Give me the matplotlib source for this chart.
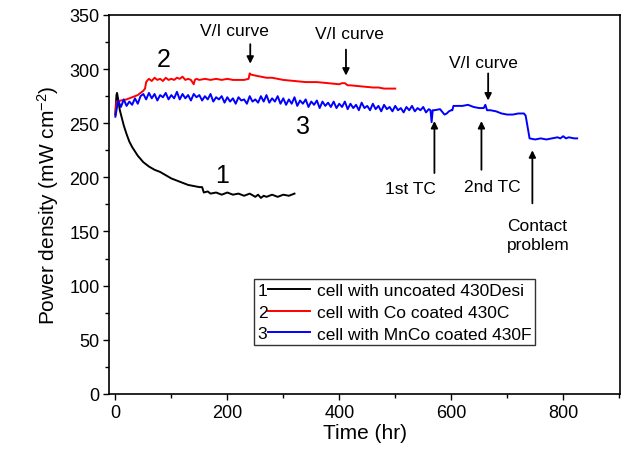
import numpy as np
import matplotlib
matplotlib.use("Agg")
import matplotlib.pyplot as plt
from matplotlib.legend_handler import HandlerLine2D
from matplotlib.text import Text
from matplotlib.ticker import MultipleLocator

plt.rcParams['font.family'] = ['Liberation Sans', 'DejaVu Sans']
plt.rcParams['mathtext.fontset'] = 'custom'
plt.rcParams['mathtext.rm'] = 'Liberation Sans'
plt.rcParams['mathtext.it'] = 'Liberation Sans'

# cell 1: uncoated 430Desi
t1 = [0, 1, 2, 3, 5, 8, 10, 15, 20, 25, 30, 35, 40, 50, 60, 70, 80, 90, 100, 110,
      120, 130, 140, 150, 155, 158, 165, 170, 180, 190, 200, 210, 220, 230, 240, 250,
      255, 260, 265, 270, 280, 290, 300, 310, 320]
p1 = [258, 268, 276, 278, 272, 262, 258, 248, 240, 233, 228, 224, 220, 214, 210, 207, 205, 202, 199, 197,
      195, 193, 192, 191, 191, 186, 187, 185, 186, 184, 186, 184, 185, 183, 185, 182,
      184, 181, 183, 182, 184, 182, 184, 183, 185]

# cell 2: Co coated 430C
t2 = [0, 2, 10, 20, 30, 40, 45, 50, 53, 55, 58, 60, 65, 70, 75, 80, 85, 90, 95, 100,
      105, 110, 115, 120, 125, 130, 135, 140, 142, 145, 150, 160, 170, 180, 190, 200, 210, 220, 230, 238,
      240, 242, 250, 260, 270, 280, 290, 300, 320, 340, 360, 380, 400, 405, 410, 415, 420, 440, 460, 470,
      480, 490, 500]
p2 = [258, 270, 271, 272, 274, 276, 278, 280, 282, 288, 290, 291, 289, 292, 290, 291, 289, 292, 290, 291,
      290, 292, 291, 293, 290, 291, 290, 286, 290, 291, 290, 291, 290, 291, 290, 291, 290, 290, 290, 291,
      296, 295, 294, 293, 292, 292, 291, 290, 289, 288, 288, 287, 286, 287, 287, 285, 285, 284, 283, 283,
      282, 282, 282]

# cell 3: MnCo coated 430F (noisy part read every 5 hr, then the event part)
t3a = list(range(0, 565, 5))
p3a = [256, 271, 265, 272, 266, 270, 267, 273, 268, 275,
       277, 272, 278, 273, 277, 271, 276, 274, 278, 272,
       276, 273, 279, 272, 277, 273, 276, 271, 277, 274,
       276, 271, 275, 272, 277, 270, 274, 272, 275, 269,
       274, 270, 273, 268, 274, 271, 272, 268, 275, 270,
       272, 269, 275, 270, 276, 269, 273, 270, 275, 268,
       273, 267, 272, 268, 274, 266, 271, 268, 272, 265,
       270, 267, 271, 264, 270, 266, 269, 265, 270, 264,
       268, 265, 270, 263, 268, 264, 267, 262, 269, 264,
       266, 262, 268, 263, 266, 261, 267, 263, 265, 261,
       266, 262, 264, 260, 265, 262, 266, 261, 264, 262,
       265, 260, 263]
t3b = [563, 565, 567, 570, 580, 588, 592, 596, 600, 602, 604, 620, 630, 640, 650, 658,
       661, 664, 670, 680, 690, 700, 710, 720, 730, 733, 736, 740, 750, 760, 770,
       780, 790, 795, 800, 805, 810, 820, 825]
p3b = [262, 251, 262, 262, 263, 258, 259, 261, 262, 262, 266, 266, 267, 265, 264, 264,
       267, 262, 262, 261, 259, 258, 258, 259, 259, 257, 248, 236, 235, 236, 235,
       236, 237, 236, 238, 236, 237, 236, 236]
t3 = t3a + t3b
p3 = p3a + p3b

labels = ['cell with uncoated 430Desi', 'cell with Co coated 430C', 'cell with MnCo coated 430F']
colors = ['black', 'red', 'blue']


class NumHandler(HandlerLine2D):
    # legend handle drawn as "1——"
    def __init__(self, num, **kw):
        super().__init__(**kw)
        self.num = num

    def create_artists(self, legend, orig_handle, xdescent, ydescent, width, height, fontsize, trans):
        arts = super().create_artists(legend, orig_handle, xdescent, ydescent, width, height, fontsize, trans)
        dw = 0.6 * fontsize
        for a in arts:
            xd = np.asarray(a.get_xdata(), dtype=float)
            if len(xd) >= 2:
                a.set_xdata(np.linspace(xd[0] + dw, xd[-1], len(xd)))
        t = Text(-xdescent, (height - ydescent) / 2 - 0.08 * fontsize, self.num, ha='left', va='center',
                 fontsize=fontsize, transform=trans)
        return arts + [t]


fig = plt.figure(figsize=(6.24, 4.56), dpi=100)
ax = fig.add_axes([0.175, 0.134, 0.819, 0.831])

lines = []
for t, p, c, lab in zip([t1, t2, t3], [p1, p2, p3], colors, labels):
    ln, = ax.plot(t, p, color=c, lw=1.4, label=lab)
    lines.append(ln)

ax.set_xlim(-11, 902)
ax.set_ylim(0, 350)
ax.xaxis.set_major_locator(MultipleLocator(200))
ax.xaxis.set_minor_locator(MultipleLocator(100))
ax.yaxis.set_major_locator(MultipleLocator(50))
ax.yaxis.set_minor_locator(MultipleLocator(25))
ax.tick_params(which='both', direction='out', labelsize=13, width=1, top=False, right=False)
ax.tick_params(which='major', length=4, pad=3)
ax.tick_params(which='minor', length=3)
for s in ax.spines.values():
    s.set_linewidth(1.2)

ax.set_xlabel('Time (hr)', fontsize=15, labelpad=2)
ax.set_ylabel(r'Power density (mW cm$^{-2}$)', fontsize=15, labelpad=6)

# curve numbers
ax.text(86, 309, '2', fontsize=18, ha='center', va='center')
ax.text(335, 247, '3', fontsize=18, ha='center', va='center')
ax.text(190, 202, '1', fontsize=18, ha='center', va='center')

# event annotations
arrow = dict(arrowstyle='-|>', color='black', lw=1.3, mutation_scale=10, shrinkA=0, shrinkB=0)
ax.annotate('', xy=(241, 305), xytext=(241, 323), arrowprops=arrow)
ax.text(212, 336, 'V/I curve', fontsize=12.5, ha='center', va='center')
ax.annotate('', xy=(412, 294), xytext=(412, 318), arrowprops=arrow)
ax.text(418, 333, 'V/I curve', fontsize=12.5, ha='center', va='center')
ax.annotate('', xy=(666, 271), xytext=(666, 296), arrowprops=arrow)
ax.text(657, 306, 'V/I curve', fontsize=12.5, ha='center', va='center')
ax.annotate('', xy=(570, 252), xytext=(570, 204), arrowprops=arrow)
ax.text(527, 190, '1st TC', fontsize=12.5, ha='center', va='center')
ax.annotate('', xy=(654, 252), xytext=(654, 207), arrowprops=arrow)
ax.text(674, 192, '2nd TC', fontsize=12.5, ha='center', va='center')
ax.annotate('', xy=(745, 225), xytext=(745, 176), arrowprops=arrow)
ax.text(700, 147, 'Contact\nproblem', fontsize=12.5, ha='left', va='center', linespacing=1.3)

leg = ax.legend(lines, labels, loc='lower left', bbox_to_anchor=(0.284, 0.129),
                borderaxespad=0, fontsize=12.5, frameon=True, fancybox=False,
                edgecolor='#333333', framealpha=1, handlelength=3.0, handletextpad=0.4,
                labelspacing=0.38, borderpad=0.2,
                handler_map={lines[0]: NumHandler('1'), lines[1]: NumHandler('2'),
                             lines[2]: NumHandler('3')})
leg.get_frame().set_linewidth(1.0)

fig.savefig('out.png', dpi=100)
